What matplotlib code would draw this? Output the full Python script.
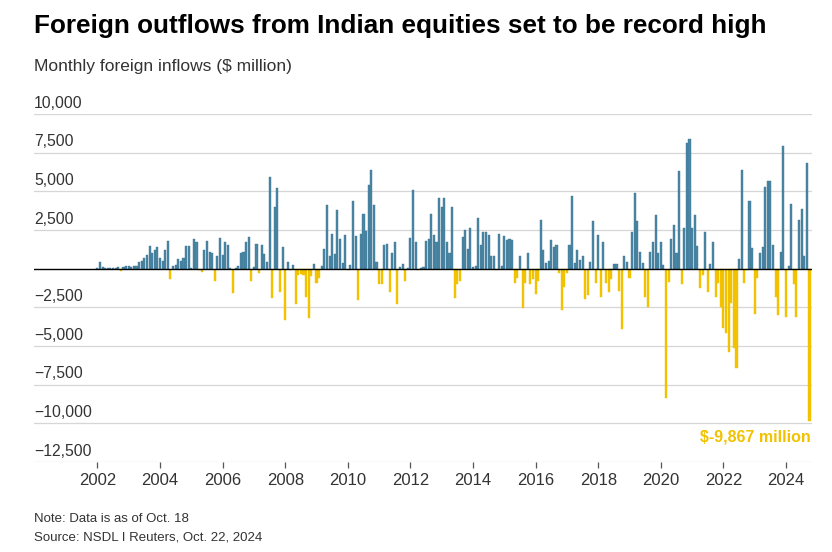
import matplotlib
matplotlib.use("Agg")
import matplotlib.pyplot as plt
import numpy as np

plt.rcParams['font.family'] = ['Liberation Sans', 'DejaVu Sans']

# Monthly foreign inflows ($ million), Jan 2002 - Oct 2024
v2002 = [50, 400, 80, 30, 50, 20, 60, 50, 100, -150, 80, 150]
v2003 = [200, 100, 200, 150, 450, 500, 700, 900, 1450, 1000, 1200, 1400]
v2004 = [700, 500, 1200, 1800, -700, 150, 250, 600, 500, 700, 1450, 1450]
v2005 = [50, 1900, 1700, -100, -200, 1200, 1800, 1100, 1000, -800, 850, 2000]
v2006 = [900, 1700, 1500, 50, -1600, 50, 200, 1000, 1100, 1750, 2050, -800]
v2007 = [100, 1600, -250, 1500, 950, 400, 5900, -1900, 4000, 5200, -1500, 1400]
v2008 = [-3300, 430, -100, 250, -2300, -400, -350, -400, -1800, -3200, -500, 300]
v2009 = [-900, -600, 150, 1300, 4100, 850, 2250, 950, 3800, 1950, 350, 2200]
v2010 = [-100, 250, 4350, 2100, -2000, 2250, 3550, 2450, 5400, 6400, 4100, 430]
v2011 = [-1000, -1000, 1500, 1600, -1500, 1000, 1750, -2300, 100, 300, -800, 50]
v2012 = [2000, 5100, 1700, -100, 50, 100, 1800, 1900, 3550, 2150, 1700, 4550]
v2013 = [4000, 4550, 1700, 1000, 4000, -1900, -1000, -800, 2050, 2500, 1300, 2600]
v2014 = [100, 200, 3300, 1500, 2350, 2350, 2150, 850, 850, -100, 2250, 200]
v2015 = [2100, 1850, 1900, 1850, -900, -600, 850, -2550, -900, 1000, -1000, -700]
v2016 = [-1650, -800, 3150, 1200, 350, 500, 1850, 1400, 1500, -300, -2650, -1200]
v2017 = [-300, 1500, 4700, 350, 1200, 550, 800, -1950, -1700, 450, 3050, -900]
v2018 = [2150, -1800, 1750, -900, -1500, -700, 300, 300, -1450, -3900, 850, 430]
v2019 = [-600, 2400, 4900, 3050, 1100, 350, -1800, -2500, 1050, 1700, 3500, 1000]
v2020 = [1700, 250, -8350, -850, 1900, 2850, 1000, 6300, -1000, 2650, 8100, 8400]
v2021 = [2600, 3500, 1450, -1250, -400, 2350, -1500, 300, 1750, -1800, -900, -2450]
v2022 = [-3850, -4150, -5400, -2200, -5100, -6400, 600, 6400, -900, -100, 4400, 1350]
v2023 = [-2900, -600, 1000, 1400, 5300, 5700, 5700, 1500, -1800, -3000, 1050, 7950]
v2024 = [-3100, 200, 4200, -1000, -3100, 3150, 3850, 850, 6850, -9867]

values = np.array(v2002 + v2003 + v2004 + v2005 + v2006 + v2007 + v2008 + v2009 +
                  v2010 + v2011 + v2012 + v2013 + v2014 + v2015 + v2016 + v2017 +
                  v2018 + v2019 + v2020 + v2021 + v2022 + v2023 + v2024, dtype=float)
start_year = 2002
t = start_year + np.arange(len(values)) / 12.0

y_ticks = [10000, 7500, 5000, 2500, -2500, -5000, -7500, -10000, -12500]
x_ticks = list(range(2002, 2025, 2))
title = "Foreign outflows from Indian equities set to be record high"
subtitle = "Monthly foreign inflows ($ million)"
note = "Note: Data is as of Oct. 18"
source = "Source: NSDL I Reuters, Oct. 22, 2024"
annot = "$-9,867 million"

BLUE = "#4a87a4"
BLUE_EDGE = "#3d7693"
GOLD = "#f2c200"
TXT = "#333333"

W, H = 832, 552
fig = plt.figure(figsize=(W / 100, H / 100), dpi=100)
ax = fig.add_axes([34 / W, 1 - 462 / H, (812 - 34) / W, (462 - 114) / H])

ax.set_xlim(1999.974, 2024.83)
ax.set_ylim(-12500, 10000)

for yv in y_ticks:
    ax.axhline(yv, color="#d6d6d6", lw=0.9, zorder=0)
    ax.annotate(f"{yv:,}".replace("-", "\u2212"), xy=(0, yv), xycoords=("axes fraction", "data"),
                xytext=(0, 2.5), textcoords="offset points", ha="left", va="bottom",
                fontsize=11.3, color=TXT)

pos = values >= 0
bw = 0.8 / 12
ax.bar(t[pos], values[pos], width=bw, color=BLUE, edgecolor=BLUE_EDGE, linewidth=0.3, zorder=2)
ax.bar(t[~pos], values[~pos], width=bw, color=GOLD, edgecolor=GOLD, linewidth=0.3, zorder=2)
ax.axhline(0, color="black", lw=1.0, zorder=3)

for s in ax.spines.values():
    s.set_visible(False)
ax.set_yticks([])
ax.set_xticks(x_ticks)
ax.set_xticklabels([str(x) for x in x_ticks], fontsize=12, color=TXT)
ax.tick_params(axis="x", length=4, width=0.9, color="#555555", pad=4)

ax.annotate(annot, xy=(t[-1], values[-1]), xycoords="data", xytext=(1, -6),
            textcoords="offset points", ha="right", va="top", fontsize=11.5,
            fontweight="bold", color=GOLD)

fig.text(34 / W, 1 - 26 / H, title, fontsize=18.8, fontweight="bold", ha="left", va="center", color="black")
fig.text(34 / W, 1 - 66 / H, subtitle, fontsize=12.5, ha="left", va="center", color=TXT)
fig.text(34 / W, 1 - 519 / H, note, fontsize=9.5, ha="left", va="center", color=TXT)
fig.text(34 / W, 1 - 538 / H, source, fontsize=9.5, ha="left", va="center", color=TXT)

fig.savefig("out.png", dpi=100, facecolor="white")
